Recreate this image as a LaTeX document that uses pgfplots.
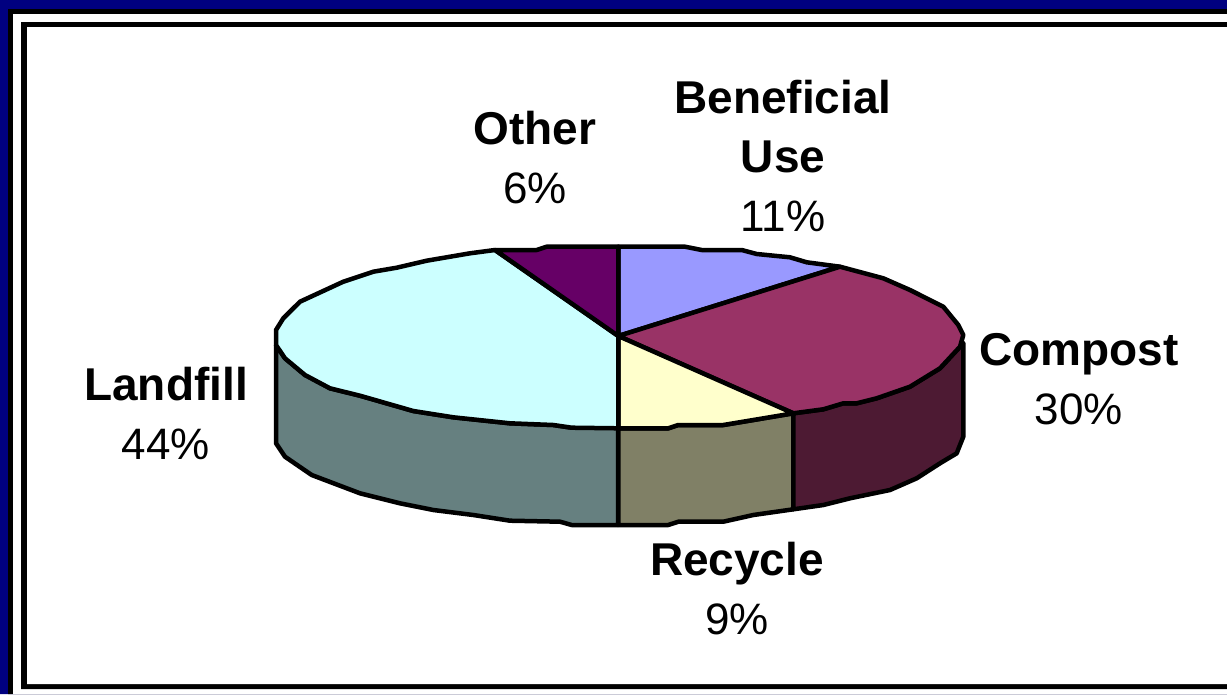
\documentclass[border=0pt]{standalone}
\usepackage{pgfplots}
\pgfplotsset{compat=1.18}
\usepackage{fontspec}
\setmainfont{Liberation Sans}
\definecolor{navyb}{HTML}{000080}
\definecolor{cben}{HTML}{9999FF}
\definecolor{ccom}{HTML}{993366}
\definecolor{crec}{HTML}{FFFFCC}
\definecolor{clan}{HTML}{CCFFFF}
\definecolor{coth}{HTML}{660066}
\definecolor{slan}{HTML}{668080}
\definecolor{srec}{HTML}{808066}
\definecolor{scom}{HTML}{4D1A33}
\tikzset{lbl/.style={font=\fontsize{46}{59}\selectfont,align=center,inner sep=0pt,draw=none}}
\newcommand{\pct}[1]{{\fontsize{44}{59}\selectfont #1}}
\begin{document}
\begin{tikzpicture}
\begin{axis}[
  width=1227pt,height=694pt,scale only axis,
  xmin=0,xmax=1227,ymin=0,ymax=694,y dir=reverse,
  axis lines=none,clip=false,
  every axis plot/.append style={line join=round,line width=4.5pt,draw=black},
]
% frame
\addplot[fill=navyb,draw=none] coordinates {(0,0)(1227,0)(1227,694)(0,694)(0,0)};
\addplot[fill=black,draw=none] coordinates {(8,9)(1227,9)(1227,694)(8,694)(8,9)};
\addplot[fill=white,draw=none] coordinates {(13,14)(1227,14)(1227,694)(13,694)(13,14)};
\addplot[fill=black,draw=none] coordinates {(21,22)(1227,22)(1227,689)(21,689)(21,22)};
\addplot[fill=white,draw=none] coordinates {(27,27)(1227,27)(1227,684)(27,684)(27,27)};
% side walls
\addplot[fill=slan] coordinates {(276,345)(276,443.3)(285,456.7)(311.7,475)(360,493.3)(400,503.3)(433.3,510)(473.3,515)(510,520.7)(560,521.7)(571.7,525)(618,525)(618,427.7)(571.7,427.7)(553.3,425)(510,423.3)(453.3,417.3)(413.3,411)(360,395.7)(330,388.3)(305,375)(285,358.3)(276,345)};
\addplot[fill=srec] coordinates {(618.3,428.3)(618.3,525)(668.3,525)(678.3,521.7)(723.3,521.7)(753.3,515)(793.3,509.3)(793.3,413.3)(753.3,420)(723.3,425)(678.3,425)(668.3,428.3)(618.3,428.3)};
\addplot[fill=scom] coordinates {(793.3,413.3)(793.3,509.3)(823.3,505)(850,498.3)(890,490)(916.7,478.3)(940,463.3)(956.7,453.3)(963.3,436.7)(963.3,343)(960,346.7)(940,368.3)(910,386.7)(876.7,398.3)(856.7,403.3)(843.3,403.3)(823.3,409.3)(793.3,413.3)};
% top faces
\addplot[fill=cben] coordinates {(618.3,336)(618.3,246.7)(685,246.7)(701.7,250)(741.7,250)(756.7,254)(790,257.3)(806.7,262.3)(840,266.7)(618.3,336)};
\addplot[fill=ccom] coordinates {(618.3,336)(840,266.7)(883.3,278.3)(910,290)(943.3,306.7)(958.3,325)(963.3,335)(960,346.7)(940,368.3)(910,386.7)(876.7,398.3)(856.7,403.3)(843.3,403.3)(823.3,409.3)(793.3,413.3)(618.3,336)};
\addplot[fill=crec] coordinates {(618.3,336)(793.3,413.3)(753.3,420)(723.3,425)(678.3,425)(668.3,428.3)(618.3,428.3)(618.3,336)};
\addplot[fill=clan] coordinates {(618.3,336)(618.3,428.3)(571.7,427.7)(553.3,425)(510,423.3)(453.3,417.3)(413.3,411)(360,395.7)(330,388.3)(305,375)(285,358.3)(276,345)(276,330)(283.3,318.3)(300,301.7)(343.3,281.7)(373.3,271.7)(396.7,267.7)(426.7,260.7)(470,253.3)(495,250)(618.3,336)};
\addplot[fill=coth] coordinates {(618.3,336)(495,250)(536.7,250)(546.7,246.7)(618.3,246.7)(618.3,336)};
% labels
\node[lbl] at (axis cs:783,156) {\textbf{Beneficial}\\\textbf{Use}\\\pct{11\%}};
\node[lbl] at (axis cs:535,158) {\textbf{Other}\\\pct{6\%}};
\node[lbl] at (axis cs:1079,379) {\textbf{Compost}\\\pct{30\%}};
\node[lbl] at (axis cs:166,413) {\textbf{Landfill}\\\pct{44\%}};
\node[lbl] at (axis cs:737,589) {\textbf{Recycle}\\\pct{9\%}};
\end{axis}
\end{tikzpicture}
\end{document}
